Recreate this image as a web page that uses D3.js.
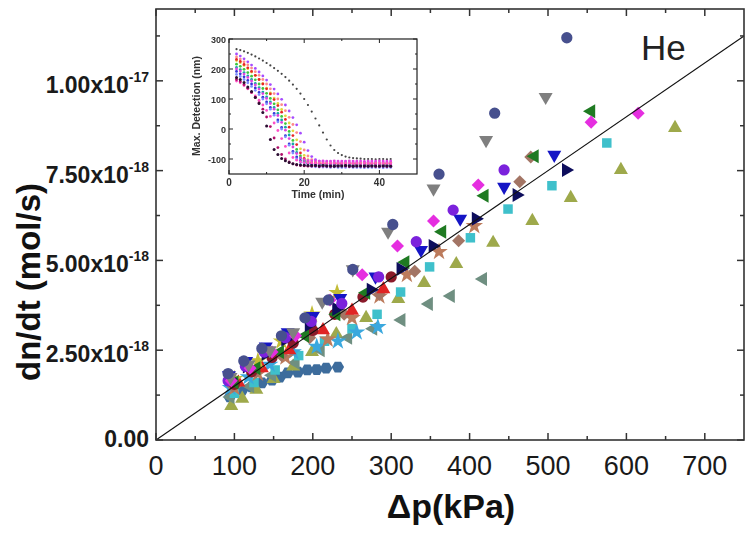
<!DOCTYPE html>
<html>
<head>
<meta charset="utf-8">
<script src="https://cdn.jsdelivr.net/npm/d3@7"></script>
<style>
  body { margin: 0; background: #fff; }
  svg { display: block; font-family: "Liberation Sans", Arial, sans-serif; }
</style>
</head>
<body>
<svg id="chart" width="751" height="539"></svg>
<script>
// ---- Main plot: He flow rate vs. pressure drop, one array pair per run ----
// pressure drop in kPa, flow rate in units of 1e-18 mol/s
const pressA = [92, 112, 135, 160, 190, 220, 251, 302, 361, 432, 524];
const rateA  = [1.85, 2.2, 2.55, 2.9, 3.4, 3.9, 4.75, 6.0, 7.4, 9.1, 11.2];
const pressB = [95, 118, 145, 175, 212, 251, 296, 354, 421, 497];
const rateB  = [1.75, 2.1, 2.5, 3.0, 3.85, 4.75, 5.8, 7.0, 8.35, 9.55];
const pressC = [96, 120, 148, 178, 222, 263, 308, 354, 411, 555, 615];
const rateC  = [1.65, 2.0, 2.45, 2.9, 3.9, 4.6, 5.4, 6.1, 7.1, 8.85, 9.1];
const pressD = [100, 128, 158, 190, 230, 268, 318, 365, 419, 483, 555];
const rateD  = [1.6, 2.0, 2.45, 2.9, 3.5, 4.1, 4.95, 5.8, 6.8, 7.9, 9.15];
const pressE = [96, 110, 128, 150, 175, 199, 230, 268, 309, 342, 383, 430, 480, 529, 593, 662];
const rateE  = [0.95, 1.15, 1.4, 1.7, 2.05, 2.45, 2.95, 3.4, 3.93, 4.37, 4.9, 5.49, 6.1, 6.74, 7.52, 8.69];
const pressF = [100, 125, 152, 182, 215, 250, 282, 312, 349, 401, 449, 505, 575];
const rateF  = [1.3, 1.6, 1.95, 2.35, 2.75, 3.1, 3.5, 4.12, 4.82, 5.63, 6.43, 7.08, 8.27];
const pressG = [93, 115, 140, 168, 200, 235, 280, 338, 388, 444, 508];
const rateG  = [1.8, 2.2, 2.6, 3.0, 3.45, 3.95, 4.55, 5.29, 6.16, 7.05, 7.94];
const pressH = [94, 116, 140, 165, 195, 230, 274, 312, 353, 408, 460, 523];
const rateH  = [1.7, 2.05, 2.4, 2.8, 3.2, 3.65, 4.18, 4.76, 5.4, 6.16, 6.82, 7.52];
const pressI = [98, 128, 160, 196, 240, 285, 330, 386, 464, 478];
const rateI  = [1.5, 1.9, 2.35, 2.85, 3.5, 4.05, 4.7, 5.55, 7.19, 7.88];
const pressJ = [92, 114, 138, 165, 198, 237, 284, 332, 379, 444];
const rateJ  = [1.65, 2.05, 2.45, 2.85, 3.3, 3.8, 4.54, 5.52, 6.4, 7.52];
const pressK = [95, 120, 148, 178, 210, 245, 277, 313, 348, 376, 417];
const rateK  = [1.2, 1.5, 1.8, 2.15, 2.5, 2.85, 3.1, 3.34, 3.79, 4.01, 4.48];
const pressL = [94, 110, 122, 135, 148, 158, 168, 181, 193, 205, 217, 232];
const rateL  = [1.2, 1.39, 1.48, 1.59, 1.67, 1.75, 1.87, 1.89, 1.95, 1.96, 2.0, 2.03];
const pressM = [100, 122, 148, 175, 200, 228, 264, 300];
const rateM  = [1.55, 1.9, 2.3, 2.7, 3.05, 3.5, 3.98, 4.54];
const pressN = [95, 118, 145, 175, 205, 232, 256, 283];
const rateN  = [1.45, 1.75, 2.1, 2.45, 2.6, 2.75, 3.0, 3.15];
const pressO = [100, 130, 165, 219, 250, 285, 320, 361, 406];
const rateO  = [1.45, 1.85, 2.3, 2.8, 3.4, 4.0, 4.6, 5.24, 5.96];
const pressP = [105, 135, 170, 213, 250, 290];
const rateP  = [1.6, 2.0, 2.5, 3.06, 3.6, 4.2];
const pressQ = [100, 130, 160, 199, 231];
const rateQ  = [1.7, 2.2, 2.75, 3.5, 4.1];

// linear fit through the origin
const fitPress = [0, 750];
const fitRate  = [0, 11.25];

// axis ticks
const xTicks = [0, 100, 200, 300, 400, 500, 600, 700];
const xMinorTicks = [50, 150, 250, 350, 450, 550, 650];
const yTicks = [0, 2.5, 5, 7.5, 10];
const yMinorTicks = [1.25, 3.75, 6.25, 8.75, 11.25];
const yTickMantissa = ["0.00", "2.50x10", "5.00x10", "7.50x10", "1.00x10"];
const yTickExponent = ["", "-18", "-18", "-18", "-17"];

// ---- Inset: maximum cantilever deflection (nm) vs. time (min), one reading per minute ----
const insetTime = [2, 3, 4, 5, 6, 7, 8, 9, 10, 11, 12, 13, 14, 15, 16, 17, 18, 19, 20, 21, 22,
                   23, 24, 25, 26, 27, 28, 29, 30, 31, 32, 33, 34, 35, 36, 37, 38, 39, 40, 41, 42, 43];
const defl1 = [172, 165, 155, 140, 125, 105, 85, 55, 10, -35, -68, -85, -98, -106, -112, -116, -118, -120, -121, -122, -122,
               -122, -123, -122, -123, -123, -124, -123, -123, -122, -123, -124, -123, -123, -123, -124, -123, -123, -124, -123, -123, -124];
const defl2 = [165, 158, 148, 136, 122, 106, 88, 66, 40, 8, -30, -62, -85, -100, -110, -116, -120, -122, -123, -124, -124,
               -123, -125, -124, -124, -125, -124, -124, -123, -124, -125, -124, -124, -124, -125, -124, -124, -125, -124, -124, -125, -124];
const defl3 = [160, 154, 145, 134, 122, 110, 96, 80, 62, 42, 20, -5, -32, -58, -80, -95, -104, -109, -112, -113, -114,
               -114, -115, -114, -115, -115, -114, -115, -115, -115, -114, -115, -115, -116, -115, -115, -115, -116, -115, -115, -115, -116];
const defl4 = [192, 184, 174, 162, 150, 137, 122, 106, 90, 72, 52, 30, 5, -22, -50, -75, -93, -105, -112, -116, -118,
               -119, -120, -120, -121, -120, -121, -121, -120, -121, -121, -121, -120, -121, -121, -121, -121, -120, -121, -121, -121, -121];
const defl5 = [205, 198, 188, 177, 165, 152, 138, 123, 107, 90, 72, 52, 30, 6, -20, -50, -78, -97, -108, -115, -118,
               -120, -121, -122, -122, -122, -123, -122, -123, -123, -123, -123, -123, -122, -123, -123, -123, -123, -123, -123, -124, -123];
const defl6 = [216, 209, 199, 188, 176, 164, 150, 135, 119, 102, 84, 64, 42, 18, -8, -38, -68, -90, -104, -112, -116,
               -118, -119, -119, -120, -120, -120, -121, -120, -120, -120, -121, -120, -120, -120, -120, -121, -120, -120, -120, -121, -120];
const defl7 = [228, 221, 212, 201, 190, 178, 165, 151, 136, 120, 103, 85, 65, 44, 20, -6, -36, -66, -88, -102, -109,
               -112, -114, -115, -115, -116, -116, -116, -117, -116, -116, -116, -117, -116, -116, -116, -116, -117, -116, -116, -116, -117];
const defl8 = [240, 233, 224, 214, 203, 191, 179, 165, 150, 134, 118, 100, 81, 61, 39, 15, -12, -42, -70, -90, -102,
               -108, -111, -112, -113, -113, -113, -114, -113, -113, -113, -114, -113, -113, -113, -113, -114, -113, -113, -113, -114, -113];
const defl9 = [250, 243, 234, 224, 213, 202, 190, 177, 163, 148, 133, 117, 99, 80, 60, 38, 14, -14, -44, -72, -92,
               -102, -107, -109, -110, -110, -111, -111, -111, -110, -111, -111, -111, -112, -111, -111, -111, -111, -112, -111, -111, -111];
const defl10 = [266, 263, 259, 254, 248, 242, 235, 228, 220, 212, 203, 194, 184, 173, 161, 148, 134, 118, 100, 80, 58,
                35, 12, -12, -35, -55, -70, -80, -87, -92, -95, -97, -98, -99, -100, -100, -100, -101, -100, -100, -101, -100];
const defl11 = [232, 225, 215, 204, 192, 179, 165, 150, 134, 117, 98, 78, 56, 32, 6, -22, -52, -80, -98, -108, -113,
                -115, -116, -117, -117, -117, -118, -117, -117, -117, -118, -117, -117, -117, -117, -118, -117, -117, -117, -118, -117, -117];
const defl12 = [182, 175, 165, 154, 142, 129, 115, 100, 84, 66, 46, 24, 0, -26, -54, -80, -100, -112, -119, -123, -125,
                -126, -127, -127, -127, -128, -127, -128, -128, -128, -127, -128, -128, -128, -129, -128, -128, -128, -128, -129, -128, -128];
const defl13 = [200, 193, 183, 172, 160, 147, 133, 118, 102, 85, 66, 45, 22, -4, -32, -60, -82, -96, -102, -105, -106,
                -106, -107, -106, -107, -107, -106, -107, -107, -107, -106, -107, -107, -107, -108, -107, -107, -107, -106, -107, -107, -107];
const insetXTicks = [0, 20, 40];
const insetXMinor = [10, 30];
const insetYTicks = [-100, 0, 100, 200, 300];
const insetYMinor = [-50, 50, 150, 250];

// ---- drawing ----
const svg = d3.select("#chart");

const symbolHexagon = {
  draw(ctx, size) {
    const r = Math.sqrt(2 * size / (3 * Math.sqrt(3)));
    for (let i = 0; i < 6; i++) {
      const a = Math.PI / 3 * i;
      const px = r * Math.cos(a), py = r * Math.sin(a);
      if (i === 0) ctx.moveTo(px, py); else ctx.lineTo(px, py);
    }
    ctx.closePath();
  }
};

const shapes = {
  circle:   { type: d3.symbolCircle,   size: 100, rot: 0 },
  square:   { type: d3.symbolSquare,   size: 90,  rot: 0 },
  diamond:  { type: d3.symbolSquare,   size: 85,  rot: 45 },
  up:       { type: d3.symbolTriangle, size: 85,  rot: 0 },
  down:     { type: d3.symbolTriangle, size: 85,  rot: 180 },
  left:     { type: d3.symbolTriangle, size: 85,  rot: -90 },
  right:    { type: d3.symbolTriangle, size: 85,  rot: 90 },
  hexagon:  { type: symbolHexagon,     size: 100, rot: 0 },
  star:     { type: d3.symbolStar,     size: 95,  rot: 0 }
};

const series = [
  { p: pressL, r: rateL, color: "#3d6c9c", shape: "hexagon" },
  { p: pressE, r: rateE, color: "#9ea94b", shape: "up" },
  { p: pressK, r: rateK, color: "#6f8f81", shape: "left" },
  { p: pressF, r: rateF, color: "#3fc0cb", shape: "square" },
  { p: pressN, r: rateN, color: "#3aa8de", shape: "star" },
  { p: pressO, r: rateO, color: "#bc7b5c", shape: "star" },
  { p: pressI, r: rateI, color: "#a37565", shape: "diamond" },
  { p: pressP, r: rateP, color: "#e02424", shape: "up" },
  { p: pressQ, r: rateQ, color: "#c2bc36", shape: "star" },
  { p: pressM, r: rateM, color: "#8a1a2a", shape: "circle" },
  { p: pressD, r: rateD, color: "#1f7a22", shape: "left" },
  { p: pressH, r: rateH, color: "#0d0d5c", shape: "right" },
  { p: pressG, r: rateG, color: "#1515c5", shape: "down" },
  { p: pressJ, r: rateJ, color: "#7b22dc", shape: "circle" },
  { p: pressC, r: rateC, color: "#e52ee0", shape: "diamond" },
  { p: pressB, r: rateB, color: "#7f7f7f", shape: "down" },
  { p: pressA, r: rateA, color: "#47508e", shape: "circle" }
];

const x = d3.scaleLinear().domain([0, 750]).range([156, 744]);
const y = d3.scaleLinear().domain([0, 12]).range([440, 9]);

const frameColor = "#333";

// markers
const markLayer = svg.append("g");
series.forEach(s => {
  const sh = shapes[s.shape];
  const path = d3.symbol().type(sh.type).size(sh.size)();
  markLayer.append("g").selectAll("path")
    .data(d3.zip(s.p, s.r))
    .join("path")
    .attr("d", path)
    .attr("transform", d => `translate(${x(d[0])},${y(d[1])}) rotate(${sh.rot})`)
    .attr("fill", s.color);
});

// fit line
svg.append("path")
  .datum(d3.zip(fitPress, fitRate))
  .attr("d", d3.line().x(d => x(d[0])).y(d => y(d[1])))
  .attr("fill", "none")
  .attr("stroke", "#111")
  .attr("stroke-width", 1.1);

// frame
const [x0, x1] = x.range();
const [yb, yt] = y.range();
svg.append("rect")
  .attr("x", x0).attr("y", yt).attr("width", x1 - x0).attr("height", yb - yt)
  .attr("fill", "none").attr("stroke", frameColor).attr("stroke-width", 1.6);

// inward ticks on all four sides
const ticks = svg.append("g").attr("stroke", frameColor).attr("stroke-width", 1.5);
function xTickLines(vals, len) {
  ticks.append("g").selectAll("line").data(vals).join("line")
    .attr("x1", d => x(d)).attr("x2", d => x(d)).attr("y1", yb).attr("y2", yb - len);
  ticks.append("g").selectAll("line").data(vals).join("line")
    .attr("x1", d => x(d)).attr("x2", d => x(d)).attr("y1", yt).attr("y2", yt + len);
}
function yTickLines(vals, len) {
  ticks.append("g").selectAll("line").data(vals).join("line")
    .attr("y1", d => y(d)).attr("y2", d => y(d)).attr("x1", x0).attr("x2", x0 + len);
  ticks.append("g").selectAll("line").data(vals).join("line")
    .attr("y1", d => y(d)).attr("y2", d => y(d)).attr("x1", x1).attr("x2", x1 - len);
}
xTickLines(xTicks, 7); xTickLines(xMinorTicks, 4);
yTickLines(yTicks, 7); yTickLines(yMinorTicks, 4);

// tick labels
svg.append("g").selectAll("text").data(xTicks).join("text")
  .attr("x", d => x(d)).attr("y", 475)
  .attr("text-anchor", "middle").attr("font-size", 27).attr("fill", "#1a1a1a")
  .text(d => d);

const yl = svg.append("g").selectAll("text").data(yTicks).join("text")
  .attr("x", 149).attr("y", (d, i) => y(d) + (yTickExponent[i] ? 12 : 7))
  .attr("text-anchor", "end").attr("font-size", 23).attr("font-weight", "bold").attr("fill", "#1a1a1a");
yl.append("tspan").text((d, i) => yTickMantissa[i]);
yl.append("tspan").attr("font-size", 14).attr("dy", -11).text((d, i) => yTickExponent[i]);

// axis titles
svg.append("text")
  .attr("transform", "translate(40,282) rotate(-90)")
  .attr("text-anchor", "middle").attr("font-size", 33).attr("font-weight", "bold").attr("fill", "#111")
  .text("dn/dt (mol/s)");
svg.append("text")
  .attr("x", 451).attr("y", 518)
  .attr("text-anchor", "middle").attr("font-size", 34).attr("font-weight", "bold").attr("fill", "#111")
  .text("Δp(kPa)");

svg.append("text")
  .attr("x", 641).attr("y", 60)
  .attr("font-size", 35).attr("fill", "#222")
  .text("He");

// ---- inset ----
const defs = svg.append("defs");
defs.append("filter").attr("id", "soft")
  .append("feGaussianBlur").attr("stdDeviation", 0.45);

const ix = d3.scaleLinear().domain([0, 50]).range([229, 417]);
const iy = d3.scaleLinear().domain([-150, 300]).range([174, 39]);
const inset = svg.append("g").attr("filter", "url(#soft)");

inset.append("rect")
  .attr("x", ix.range()[0]).attr("y", iy.range()[1])
  .attr("width", ix.range()[1] - ix.range()[0]).attr("height", iy.range()[0] - iy.range()[1])
  .attr("fill", "#fff");

const insetCurves = [
  { v: defl10, color: "#444444", r: 1.1 },
  { v: defl9,  color: "#a64cff", r: 1.4 },
  { v: defl8,  color: "#ff8a8a", r: 1.4 },
  { v: defl7,  color: "#e2d840", r: 1.4 },
  { v: defl11, color: "#e82828", r: 1.4 },
  { v: defl6,  color: "#3cc83c", r: 1.4 },
  { v: defl5,  color: "#14a8a8", r: 1.4 },
  { v: defl13, color: "#e040e0", r: 1.4 },
  { v: defl4,  color: "#3535d5", r: 1.4 },
  { v: defl12, color: "#7c8cff", r: 1.4 },
  { v: defl3,  color: "#ff50c8", r: 1.4 },
  { v: defl2,  color: "#b0106a", r: 1.4 },
  { v: defl1,  color: "#2b0b30", r: 1.5 }
];
insetCurves.forEach(c => {
  inset.append("g").selectAll("circle")
    .data(d3.zip(insetTime, c.v))
    .join("circle")
    .attr("cx", d => ix(d[0])).attr("cy", d => iy(d[1]))
    .attr("r", c.r).attr("fill", c.color);
});

const [ix0, ix1] = ix.range();
const [iyb, iyt] = iy.range();
inset.append("rect")
  .attr("x", ix0).attr("y", iyt).attr("width", ix1 - ix0).attr("height", iyb - iyt)
  .attr("fill", "none").attr("stroke", "#222").attr("stroke-width", 1.2);

const it = inset.append("g").attr("stroke", "#222").attr("stroke-width", 1);
function insetX(vals, len) {
  it.append("g").selectAll("line").data(vals).join("line")
    .attr("x1", d => ix(d)).attr("x2", d => ix(d)).attr("y1", iyb).attr("y2", iyb - len);
  it.append("g").selectAll("line").data(vals).join("line")
    .attr("x1", d => ix(d)).attr("x2", d => ix(d)).attr("y1", iyt).attr("y2", iyt + len);
}
function insetY(vals, len) {
  it.append("g").selectAll("line").data(vals).join("line")
    .attr("y1", d => iy(d)).attr("y2", d => iy(d)).attr("x1", ix0).attr("x2", ix0 + len);
  it.append("g").selectAll("line").data(vals).join("line")
    .attr("y1", d => iy(d)).attr("y2", d => iy(d)).attr("x1", ix1).attr("x2", ix1 - len);
}
insetX(insetXTicks, 4); insetX(insetXMinor, 2);
insetY(insetYTicks, 4); insetY(insetYMinor, 2);

inset.append("g").selectAll("text").data(insetXTicks).join("text")
  .attr("x", d => ix(d)).attr("y", 186)
  .attr("text-anchor", "middle").attr("font-size", 10).attr("font-weight", "bold").attr("fill", "#333")
  .text(d => d);
inset.append("g").selectAll("text").data(insetYTicks).join("text")
  .attr("x", 226).attr("y", d => iy(d) + 3.5)
  .attr("text-anchor", "end").attr("font-size", 9).attr("font-weight", "bold").attr("fill", "#333")
  .text(d => d);
inset.append("text")
  .attr("x", 318).attr("y", 198)
  .attr("text-anchor", "middle").attr("font-size", 10.5).attr("font-weight", "bold").attr("fill", "#333")
  .text("Time (min)");
inset.append("text")
  .attr("transform", "translate(200,106) rotate(-90)")
  .attr("text-anchor", "middle").attr("font-size", 10.5).attr("font-weight", "bold").attr("fill", "#333")
  .text("Max. Detection (nm)");
</script>
</body>
</html>
